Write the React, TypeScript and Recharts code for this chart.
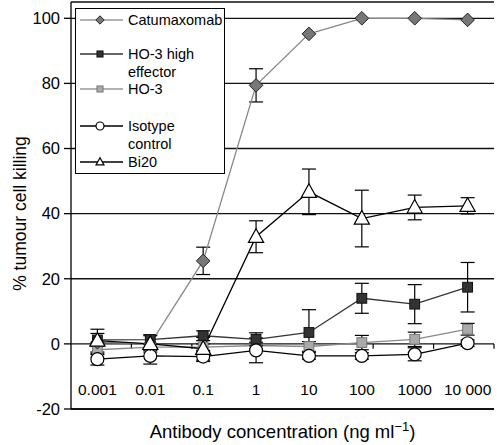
import React from 'react';
import { ComposedChart, Line, XAxis, YAxis, CartesianGrid, ErrorBar, ReferenceLine, ReferenceArea, Legend } from 'recharts';

const concentrations = ['0.001', '0.01', '0.1', '1', '10', '100', '1000', '10 000'];
const catumaxomab = [0.5, 0, 25.5, 79.4, 95.2, 100, 100, 99.5];
const catumaxomabErr = [0, 0, 4.2, 5.1, 0, 0, 0, 0];
const ho3High = [1.2, 1.3, 2.5, 1.4, 3.5, 14, 12.2, 17.4];
const ho3HighErr = [2, 1.5, 1.5, 2, 7, 4.6, 6, 7.6];
const ho3 = [-1.8, -1, -1, -0.5, -0.8, 0.4, 1.4, 4.5];
const ho3Err = [1.5, 1, 1, 1, 1.5, 2.2, 2.2, 1.8];
const isotype = [-4.7, -3.7, -3.9, -2, -3.7, -3.7, -3.2, 0.2];
const isotypeErr = [1.8, 2.5, 1.5, 3.8, 1, 1, 2, 1];
const bi20 = [1, 0, -1.5, 32.9, 46.7, 38.5, 41.9, 42.4];
const bi20Err = [3.5, 2.5, 3.5, 4.9, 7, 8.7, 3.8, 2.5];
const yTicks = [-20, 0, 20, 40, 60, 80, 100];
const zeroAxisTicks = [1, 2, 3, 4, 5, 6, 7];
const legendLabels = [['Catumaxomab'], ['HO-3 high', 'effector'], ['HO-3'], ['Isotype', 'control'], ['Bi20']];

const data = concentrations.map((c, i) => ({
  conc: c,
  catumaxomab: catumaxomab[i], catumaxomabErr: catumaxomabErr[i],
  ho3High: ho3High[i], ho3HighErr: ho3HighErr[i],
  ho3: ho3[i], ho3Err: ho3Err[i],
  isotype: isotype[i], isotypeErr: isotypeErr[i],
  bi20: bi20[i], bi20Err: bi20Err[i],
}));

const FONT = 'Liberation Sans, Arial, Helvetica, sans-serif';

type Shape = 'diamond' | 'square' | 'lsquare' | 'circle' | 'triangle';

function Marker({ shape, cx, cy, s }: { shape: Shape; cx: number; cy: number; s: number }) {
  if (shape === 'diamond') {
    return <polygon points={`${cx},${cy - s} ${cx + s},${cy} ${cx},${cy + s} ${cx - s},${cy}`} fill="#777" stroke="#222" strokeWidth={1} />;
  }
  if (shape === 'square') {
    const h = s * 0.72;
    return <rect x={cx - h} y={cy - h} width={2 * h} height={2 * h} fill="#333" stroke="#111" strokeWidth={1} />;
  }
  if (shape === 'lsquare') {
    const h = s * 0.72;
    return <rect x={cx - h} y={cy - h} width={2 * h} height={2 * h} fill="#aaa" stroke="#777" strokeWidth={1} />;
  }
  if (shape === 'circle') {
    return <circle cx={cx} cy={cy} r={s * 0.95} fill="#fff" stroke="#000" strokeWidth={1.2} />;
  }
  const r = s;
  return <polygon points={`${cx},${cy - r} ${cx + r * 0.95},${cy + r * 0.7} ${cx - r * 0.95},${cy + r * 0.7}`} fill="#fff" stroke="#000" strokeWidth={1.2} />;
}

const makeDot = (shape: Shape, s: number) => (props: any) => {
  const { cx, cy, index } = props;
  if (cx == null || cy == null) return <g key={`d${index}`} />;
  return <g key={`d${shape}${index}`}><Marker shape={shape} cx={cx} cy={cy} s={s} /></g>;
};

const legendShapes: Shape[] = ['diamond', 'square', 'lsquare', 'circle', 'triangle'];
const legendLineColors = ['#999', '#333', '#999', '#000', '#000'];
const legendRowY = [12, 46, 81, 118, 154];

function LegendBox() {
  return (
    <svg width={150} height={166} style={{ display: 'block' }}>
      <rect x={0.5} y={0.5} width={149} height={165} fill="#fff" stroke="#000" strokeWidth={1} />
      {legendLabels.map((lines, i) => (
        <g key={i}>
          <line x1={5} x2={48} y1={legendRowY[i]} y2={legendRowY[i]} stroke={legendLineColors[i]} strokeWidth={1.3} />
          <Marker shape={legendShapes[i]} cx={25} cy={legendRowY[i]} s={4.2} />
          {lines.map((t, j) => (
            <text key={j} x={53} y={legendRowY[i] + 5 + j * 17.5} fontSize={14.5} fontFamily={FONT} fill="#000">{t}</text>
          ))}
        </g>
      ))}
    </svg>
  );
}

const XTick = (props: any) => {
  const { x, y, payload } = props;
  return <text x={x} y={y - 14} textAnchor="middle" fontSize={15.5} fontFamily={FONT} fill="#000">{payload.value}</text>;
};

const XLabel = (props: any) => {
  const { viewBox } = props;
  const { x, y, width, height } = viewBox;
  return (
    <text x={x + width / 2} y={y + height - 7} textAnchor="middle" fontSize={18.5} fontFamily={FONT} fill="#000">
      Antibody concentration (ng ml<tspan dy={-7} fontSize={13}>−1</tspan><tspan dy={7}>)</tspan>
    </text>
  );
};

const YLabel = (props: any) => {
  const { viewBox } = props;
  const { x, y, height } = viewBox;
  const cx = x + 20;
  const cy = y + height / 2 + 8;
  return (
    <text x={cx} y={cy} transform={`rotate(-90 ${cx} ${cy})`} textAnchor="middle" dominantBaseline="central" fontSize={17.5} fontFamily={FONT} fill="#000">
      % tumour cell killing
    </text>
  );
};

export default function App() {
  return (
    <div style={{ position: 'absolute', left: 0, top: 0 }}>
      <ComposedChart width={497} height={445} data={data} margin={{ top: 2, right: 3, bottom: 0, left: 0 }}>
        <CartesianGrid horizontal vertical={false} stroke="#111" strokeWidth={1.3} />
        <XAxis dataKey="conc" height={36} padding={{ left: 26.4, right: 26.4 }} axisLine={{ stroke: '#000', strokeWidth: 1.3 }} tickLine={false} tickSize={0} tickMargin={0} tick={<XTick />} interval={0} label={<XLabel />} />
        <XAxis xAxisId="n" type="number" domain={[0, 8]} hide />
        <YAxis type="number" domain={[-20, 105]} ticks={yTicks} width={71} allowDataOverflow
          tickSize={7} tickMargin={4}
          tick={{ fontSize: 16.5, fill: '#000', fontFamily: FONT }}
          axisLine={{ stroke: '#000', strokeWidth: 1.3 }} tickLine={{ stroke: '#000', strokeWidth: 1.3 }}
          label={<YLabel />} />
        <ReferenceArea xAxisId="n" x1={0} x2={8} y1={-20} y2={105} fill="none" stroke="#000" strokeWidth={1.3} />
        {zeroAxisTicks.map((k) => (
          <ReferenceLine key={k} xAxisId="n" segment={[{ x: k, y: 0 }, { x: k, y: -1.5 }]} stroke="#000" strokeWidth={1.2} />
        ))}
        <Legend layout="vertical" align="center" verticalAlign="middle" content={<LegendBox />} wrapperStyle={{ left: 75, top: 8, width: 150, height: 166 }} />
        <Line dataKey="ho3" name="HO-3" stroke="#888" strokeWidth={1.3} dot={makeDot('lsquare', 6.8)} isAnimationActive={false}>
          <ErrorBar dataKey="ho3Err" width={7} stroke="#000" strokeWidth={1.2} />
        </Line>
        <Line dataKey="ho3High" name="HO-3 high effector" stroke="#333" strokeWidth={1.3} dot={makeDot('square', 6.8)} isAnimationActive={false}>
          <ErrorBar dataKey="ho3HighErr" width={7} stroke="#000" strokeWidth={1.2} />
        </Line>
        <Line dataKey="isotype" name="Isotype control" stroke="#000" strokeWidth={1.3} dot={makeDot('circle', 6.8)} isAnimationActive={false}>
          <ErrorBar dataKey="isotypeErr" width={7} stroke="#000" strokeWidth={1.2} />
        </Line>
        <Line dataKey="catumaxomab" name="Catumaxomab" stroke="#888" strokeWidth={1.3} dot={makeDot('diamond', 6.8)} isAnimationActive={false}>
          <ErrorBar dataKey="catumaxomabErr" width={7} stroke="#000" strokeWidth={1.2} />
        </Line>
        <Line dataKey="bi20" name="Bi20" stroke="#000" strokeWidth={1.3} dot={makeDot('triangle', 8)} isAnimationActive={false}>
          <ErrorBar dataKey="bi20Err" width={7} stroke="#000" strokeWidth={1.2} />
        </Line>
      </ComposedChart>
    </div>
  );
}
